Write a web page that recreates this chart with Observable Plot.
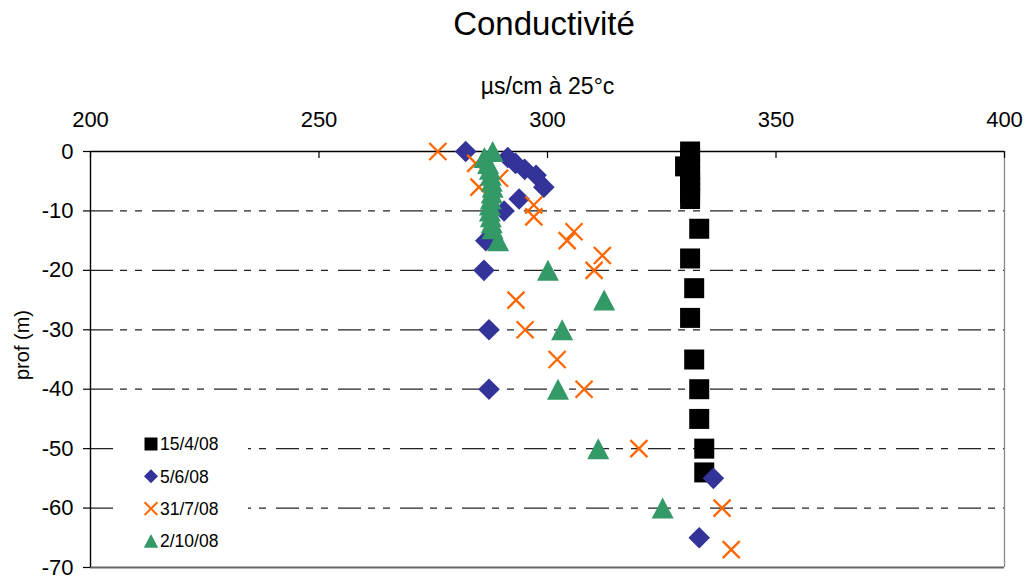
<!DOCTYPE html>
<html>
<head>
<meta charset="utf-8">
<script src="https://cdn.jsdelivr.net/npm/d3@7"></script>
<script src="https://cdn.jsdelivr.net/npm/@observablehq/plot@0.6"></script>
<style>
  body { margin: 0; background: #fff; font-family: "Liberation Sans", Arial, sans-serif; }
  #wrap { position: relative; width: 1028px; height: 580px; overflow: hidden; }
  #title { width: 1028px; height: 48px; line-height: 48px; padding-left: 60px; box-sizing: border-box;
           text-align: center; font-size: 33px; color: #000; }
  #legend { position: absolute; left: 113px; top: 425px; width: 135px; height: 135px; background: #fff; }
</style>
</head>
<body>
<div id="wrap">
  <div id="title">Conductivité</div>
  <div id="chart"></div>
  <svg id="legend" width="135" height="135"></svg>
</div>
<script>
// ---- data ----
const title = "Conductivité";
const xLabel = "µs/cm à 25°c";
const yLabel = "prof (m)";
const xTicks = [200, 250, 300, 350, 400];
const yTicks = [0, -10, -20, -30, -40, -50, -60, -70];
const gridDepths = [-10, -20, -30, -40, -50, -60];

const seriesNames = ["15/4/08", "5/6/08", "31/7/08", "2/10/08"];
const seriesColors = ["#000000", "#333399", "#FF6600", "#339966"];

// 15/4/08 (squares)
const sqDepth = [0, -1, -2.5, -3, -4, -5, -6, -7, -8, -13, -18, -23, -28, -35, -40, -45, -50, -54];
const sqValue = [331.2, 331.2, 330.1, 331.2, 331.2, 331.2, 331.2, 331.2, 331.2, 333.2, 331.2, 332.1, 331.2, 332.1, 333.2, 333.2, 334.3, 334.3];

// 5/6/08 (diamonds)
const dmDepth = [0, -1, -2, -3, -4, -6, -8, -10, -15, -20, -30, -40, -55, -65];
const dmValue = [282.1, 291.3, 293.0, 295.0, 297.5, 299.2, 293.8, 290.5, 286.5, 286.1, 287.2, 287.2, 336.3, 333.2];

// 31/7/08 (crosses)
const xsDepth = [0, -2, -4.5, -6, -9, -11, -13.5, -15, -17.5, -20, -25, -30, -35, -40, -50, -60, -67];
const xsValue = [276.0, 284.3, 289.5, 285.0, 297.0, 297.0, 305.8, 304.3, 312.0, 310.2, 293.1, 295.1, 302.1, 308.0, 320.0, 338.2, 340.2];

// 2/10/08 (triangles)
const trDepth = [0, -1, -2, -3, -4, -5, -6, -7, -8, -9, -10, -11, -12, -13, -15, -20, -25, -30, -40, -50, -60];
const trValue = [288.0, 286.2, 287.0, 287.4, 287.6, 287.8, 288.0, 287.8, 287.6, 287.4, 287.4, 287.6, 287.8, 288.0, 289.2, 300.1, 312.4, 303.2, 302.3, 311.1, 325.2];

// ---- symbols ----
const rOf = size => Math.sqrt(size / Math.PI);
const symSquare = { draw(c, size) { const r = rOf(size); c.rect(-r, -r, 2 * r, 2 * r); } };
const symDiamond = { draw(c, size) { const r = rOf(size) * 1.08; c.moveTo(0, -r); c.lineTo(r, 0); c.lineTo(0, r); c.lineTo(-r, 0); c.closePath(); } };
const symTriangle = { draw(c, size) { const r = rOf(size); const w = r * 1.1, h = r * 1.05; c.moveTo(0, -h); c.lineTo(w, h); c.lineTo(-w, h); c.closePath(); } };
const symTimes = { draw(c, size) { const r = rOf(size) * 0.85; c.moveTo(-r, -r); c.lineTo(r, r); c.moveTo(r, -r); c.lineTo(-r, r); } };

const toRows = (d, v) => d.map((depth, i) => ({depth, value: v[i]}));
const sq = toRows(sqDepth, sqValue);
const dm = toRows(dmDepth, dmValue);
const xs = toRows(xsDepth, xsValue);
const tr = toRows(trDepth, trValue);

const FONT = '"Liberation Sans", Arial, sans-serif';
const TICK_FS = 22;

const plot = Plot.plot({
  width: 1028,
  height: 532,
  marginTop: 103,
  marginBottom: 13,
  marginLeft: 90,
  marginRight: 24,
  style: {fontFamily: FONT, fontSize: TICK_FS + "px", color: "#000", background: "#fff", overflow: "visible"},
  x: {domain: [200, 400], axis: null},
  y: {domain: [-70, 0], axis: null},
  marks: [
    Plot.ruleY(gridDepths, {stroke: "#222", strokeWidth: 1.3, strokeDasharray: "23,7,7,8,7,10"}),
    Plot.ruleY([-70], {stroke: "#666", strokeWidth: 2}),
    Plot.ruleX([400], {stroke: "#888", strokeWidth: 1.3}),
    Plot.ruleX([200], {stroke: "#000", strokeWidth: 1.4}),
    Plot.ruleY([0], {stroke: "#000", strokeWidth: 1.6}),
    // inward ticks on top axis, outward ticks on left axis
    Plot.ruleX(xTicks, {y1: 0, y2: 0, insetBottom: -7, stroke: "#000", strokeWidth: 1.2}),
    Plot.ruleY(yTicks, {x1: 200, x2: 200, insetLeft: -7, stroke: "#000", strokeWidth: 1.2}),
    // tick labels
    Plot.text(xTicks, {x: d => d, text: d => String(d), frameAnchor: "top", lineAnchor: "bottom", dy: -25, fontSize: TICK_FS, fontFamily: FONT, fill: "#000"}),
    Plot.text(yTicks, {y: d => d, text: d => String(d), frameAnchor: "left", textAnchor: "end", dx: -17, fontSize: TICK_FS, fontFamily: FONT, fill: "#000"}),
    // data
    Plot.dot(sq, {x: "value", y: "depth", symbol: symSquare, r: 10, fill: seriesColors[0], stroke: "none"}),
    Plot.dot(dm, {x: "value", y: "depth", symbol: symDiamond, r: 10, fill: seriesColors[1], stroke: "none"}),
    Plot.dot(xs, {x: "value", y: "depth", symbol: symTimes, r: 10, fill: "none", stroke: seriesColors[2], strokeWidth: 2.3}),
    Plot.dot(tr, {x: "value", y: "depth", symbol: symTriangle, r: 10, fill: seriesColors[3], stroke: "none"}),
    // axis titles
    Plot.text([xLabel], {text: d => d, frameAnchor: "top", textAnchor: "middle", dy: -74, fontSize: 23, fontFamily: FONT}),
    Plot.text([yLabel], {text: d => d, frameAnchor: "left", textAnchor: "middle", dx: -68, dy: -14.5, rotate: -90, fontSize: 20, fontFamily: FONT})
  ]
});
document.getElementById("chart").appendChild(plot);

// ---- legend ----
const lg = d3.select("#legend");
const legendSyms = [symSquare, symDiamond, symTimes, symTriangle];
const legendR = [6.5, 6.5, 7.5, 6.5];
seriesNames.forEach((name, i) => {
  const cy = 19 + i * 32.3;
  const p = d3.path();
  legendSyms[i].draw(p, legendR[i] * legendR[i] * Math.PI);
  const path = lg.append("path").attr("d", p.toString()).attr("transform", `translate(38,${cy})`);
  if (i === 2) path.attr("fill", "none").attr("stroke", seriesColors[i]).attr("stroke-width", 2);
  else path.attr("fill", seriesColors[i]);
  lg.append("text").attr("x", 47).attr("y", cy + 6.3).attr("font-size", 17.5)
    .attr("font-family", FONT).attr("fill", "#000").text(name);
});
</script>
</body>
</html>
